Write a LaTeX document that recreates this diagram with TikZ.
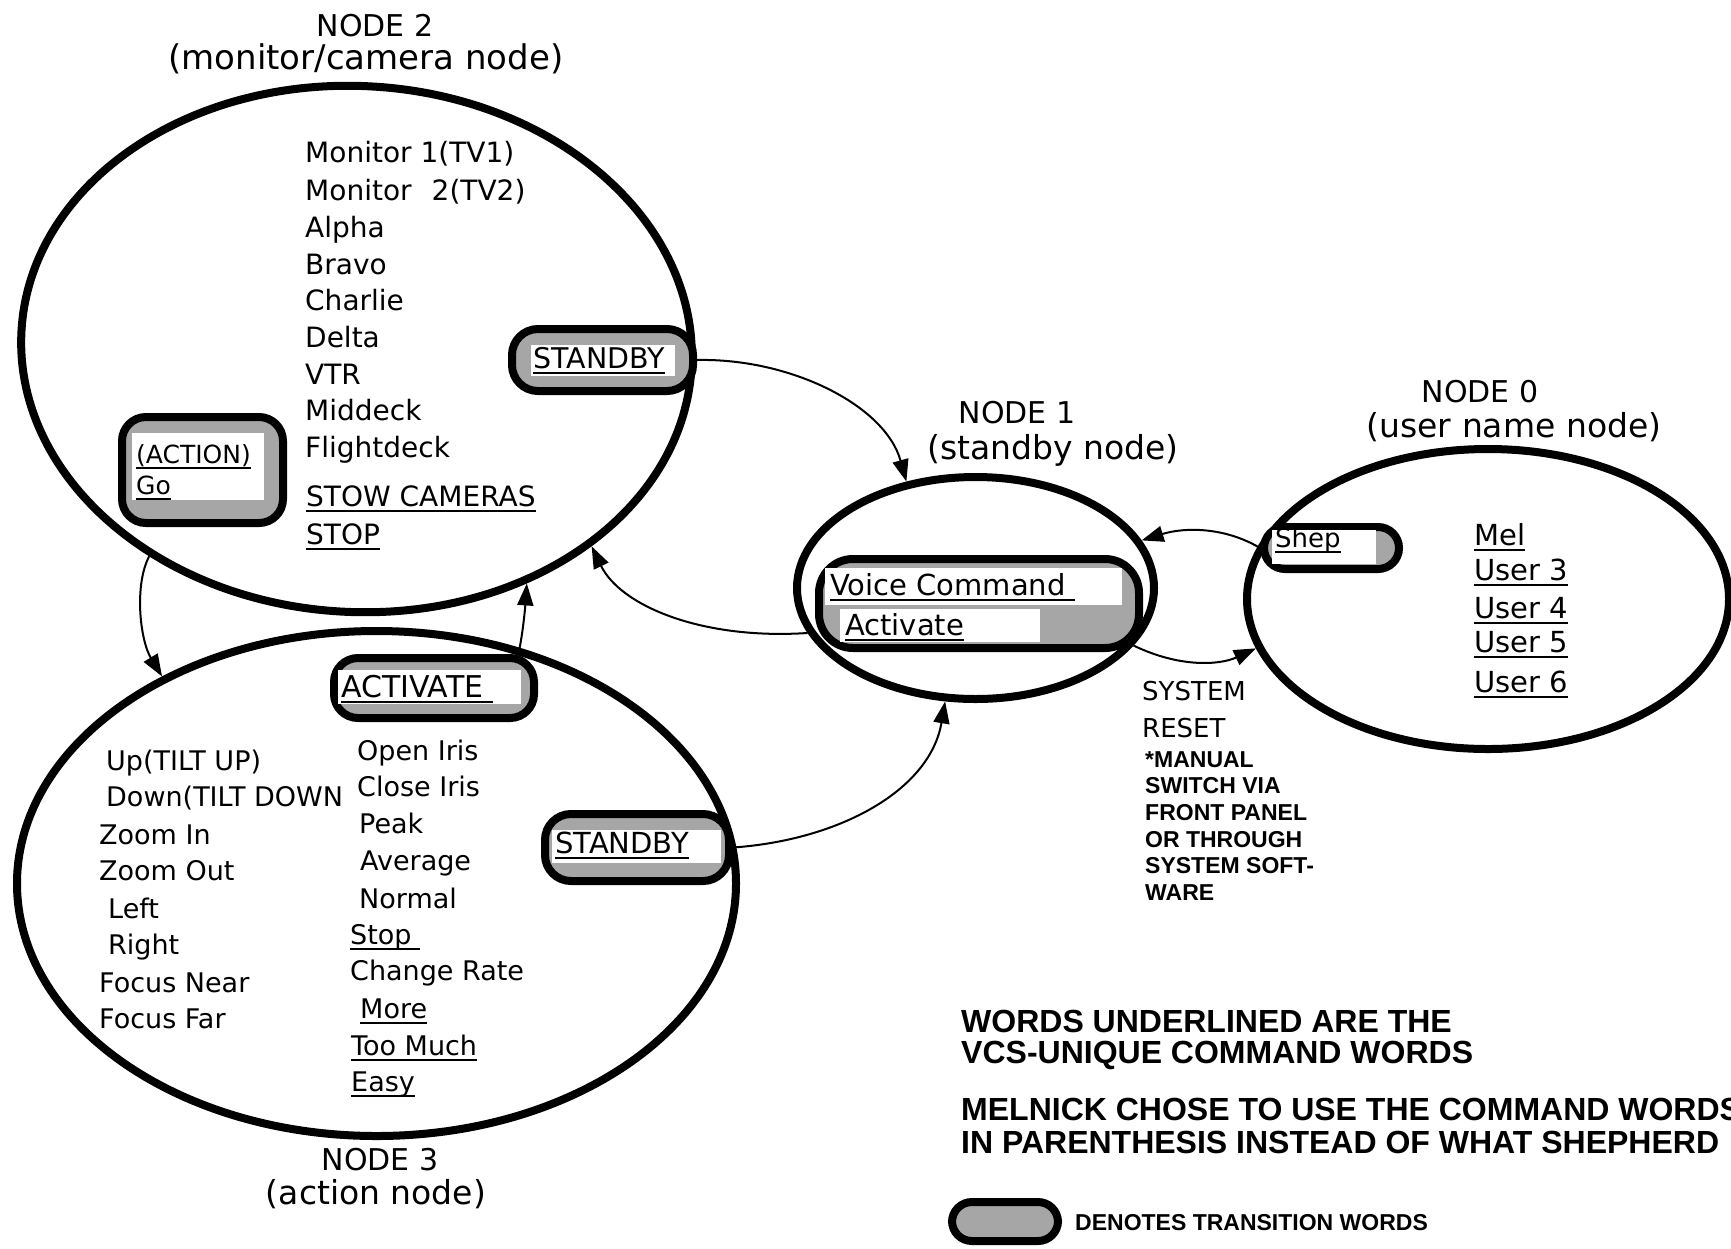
\documentclass[tikz,border=0pt]{standalone}
\usepackage{fontspec}
\setmainfont{DejaVu Sans}
\newfontfamily\notefont{Liberation Sans}
\usetikzlibrary{shapes.geometric,arrows.meta}
\newcommand\ul[1]{\begingroup\setbox0=\hbox{#1}\rlap{\rule[-6pt]{\wd0}{2pt}}\box0\endgroup}
\begin{document}
\begin{tikzpicture}[x=1pt,y=-1pt,
  ell/.style={ellipse, draw, line width=8pt, inner sep=0pt},
  tbox/.style={draw, line width=8pt, fill=black!35, inner sep=0pt},
  t2/.style={anchor=base west, inner sep=0pt, font=\fontsize{28}{34}\selectfont},
  t3/.style={anchor=base west, inner sep=0pt, font=\fontsize{27}{32}\selectfont},
  t1/.style={anchor=base west, inner sep=0pt, font=\fontsize{29}{34}\selectfont},
  tsm/.style={anchor=base west, inner sep=0pt, font=\fontsize{25}{30}\selectfont},
  tsys/.style={anchor=base west, inner sep=0pt, font=\fontsize{26}{30}\selectfont},
  ttl/.style={anchor=base, inner sep=0pt, font=\fontsize{33}{38}\selectfont},
  tnode/.style={anchor=base, inner sep=0pt, font=\fontsize{30}{36}\selectfont},
  nbig/.style={anchor=base west, inner sep=0pt, font=\notefont\bfseries\fontsize{32}{38}\selectfont},
  nsm/.style={anchor=base west, inner sep=0pt, font=\notefont\bfseries\fontsize{23}{27}\selectfont},
  arr/.style={-{Triangle[length=22pt,width=16pt]}, line width=2pt}
]
\useasboundingbox (0,0) rectangle (1731,1248);
\clip (0,0) rectangle (1731,1248);
\fill[white] (0,0) rectangle (1731,1248);

% ---------- ellipses ----------
\node[ell, rotate=-3, minimum width=671pt, minimum height=526pt] (n2) at (356.5,349) {};
\node[ell, minimum width=719pt, minimum height=505pt] (n3) at (376.5,883.5) {};
\node[ell, minimum width=357pt, minimum height=222pt] (n1) at (975.5,588) {};
\node[ell, minimum width=482pt, minimum height=300pt] (n0) at (1488,599) {};

% ---------- titles ----------
\node[tnode] (n2a) at (375,36) {NODE 2};
\node[ttl, font=\fontsize{34}{40}\selectfont] (n2b) at (366,69) {(monitor/camera node)};
\node[tnode] (n1a) at (1017,423) {NODE 1};
\node[ttl] (n1b) at (1053,459) {(standby node)};
\node[tnode] (n0a) at (1480,402) {NODE 0};
\node[ttl] (n0b) at (1514,437) {(user name node)};
\node[tnode] (n3a) at (380,1170) {NODE 3};
\node[ttl] (n3b) at (376,1204) {(action node)};

% ---------- node 2 words ----------
\foreach \t/\y [count=\i] in {Monitor 1(TV1)/162, Monitor\hspace{0.4em} 2(TV2)/200, Alpha/237, Bravo/274, Charlie/310, Delta/347, VTR/384, Middeck/420, Flightdeck/457}
  \node[t2] (w2\i) at (305,\y) {\t};
\node[t2] (stow) at (306,506) {\ul{STOW CAMERAS}};
\node[t2] (stop2) at (306,544) {\ul{STOP}};

% STANDBY box of node 2
\node[tbox, rounded corners=26pt, minimum width=181pt, minimum height=62pt] (s2) at (602.5,360) {};
\fill[white] (531,345) rectangle (675,376);
\node[t2, font=\fontsize{28.5}{34}\selectfont] (s2t) at (533,368) {\ul{STANDBY}};

% ACTION / Go box
\node[tbox, rounded corners=24pt, minimum width=161pt, minimum height=106pt] (ago) at (202.5,470) {};
\fill[white] (132,433) rectangle (264,500);
\node[tsm] (agoa) at (136,463) {\ul{(ACTION)}};
\node[tsm] (agob) at (136,494) {\ul{Go}};

% ---------- node 3 words ----------
\foreach \t/\x/\y [count=\i] in {Up(TILT UP)/106/770, Down(TILT DOWN/106/806, Zoom In/99/844, Zoom Out/99/880, Left/108/918, Right/108/954, Focus Near/99/992, Focus Far/99/1028}
  \node[t3] (l3\i) at (\x,\y) {\t};
\foreach \t/\x/\y [count=\i] in {Open Iris/357/760, Close Iris/357/796, Peak/359/833, Average/360/870, Normal/359/908, \ul{Stop\ }/350/944, Change Rate/350/980, \ul{More}/360/1018, \ul{Too Much}/351/1055, \ul{Easy}/351/1091}
  \node[t3] (r3\i) at (\x,\y) {\t};

% ACTIVATE box
\node[tbox, rounded corners=24pt, minimum width=200pt, minimum height=60pt] (act) at (434,688) {};
\fill[white] (338,670) rectangle (521,704);
\node[t3, font=\fontsize{30}{34}\selectfont] (actt) at (341,697) {\ul{ACTIVATE\ }};

% STANDBY box of node 3
\node[tbox, rounded corners=26pt, minimum width=184pt, minimum height=67pt] (s3) at (637,847.5) {};
\fill[white] (552,830) rectangle (721,863);
\node[t3, font=\fontsize{29}{34}\selectfont] (s3t) at (555,853) {\ul{STANDBY}};

% ---------- node 1 ----------
\node[tbox, rounded corners=34pt, minimum width=320pt, minimum height=89pt] (vc) at (979,603.5) {};
\fill[white] (825,568) rectangle (1122,605);
\fill[white] (840,609) rectangle (1040,642);
\node[t1] (vct) at (830,595) {\ul{Voice Command\ }};
\node[t1] (actv) at (845,635) {\ul{Activate}};

% ---------- node 0 ----------
\node[tbox, rounded corners=21pt, minimum width=135pt, minimum height=42pt] (shep) at (1331.5,548) {};
\fill[white] (1272,530) rectangle (1376,564);
\node[tsys] (shept) at (1275,547) {\ul{Shep}};
\foreach \t/\y [count=\i] in {Mel/545, User 3/580, User 4/618, User 5/652, User 6/692}
  \node[t1] (u\i) at (1474,\y) {\ul{\t}};

% ---------- system reset ----------
\node[tsys] (sys1) at (1142,700) {SYSTEM};
\node[tsys] (sys2) at (1142,737) {RESET};
\foreach \t/\y [count=\i] in {*MANUAL/767, SWITCH VIA/793, FRONT PANEL/820, OR THROUGH/847, SYSTEM SOFT-/873, WARE/900}
  \node[nsm] (m\i) at (1145,\y) {\t};

% ---------- notes ----------
\node[nbig] (nt1) at (961,1032) {WORDS UNDERLINED ARE THE};
\node[nbig] (nt2) at (961,1063) {VCS-UNIQUE COMMAND WORDS};
\node[nbig] (nt3) at (961,1120) {MELNICK CHOSE TO USE THE COMMAND WORDS};
\node[nbig] (nt4) at (961,1153) {IN PARENTHESIS INSTEAD OF WHAT SHEPHERD};
\node[tbox, rounded corners=20pt, minimum width=106pt, minimum height=39pt] (leg) at (1005,1221.5) {};
\node[nsm] (legt) at (1075,1230) {DENOTES TRANSITION WORDS};

% ---------- connectors ----------
\draw[arr] (s2.east) .. controls (790,358) and (885,405) .. (n1.123);
\draw[arr] (n1.195) .. controls (700,640) and (620,605) .. (n2.323);
\draw[arr] (shep.west) .. controls (1225,527) and (1185,527) .. (n1.16);
\draw[arr] (n1.-20) .. controls (1180,668) and (1220,665) .. (n0.192);
\draw[arr] (s3.east) .. controls (840,840) and (930,790) .. (n1.255);
\draw[arr] (n2.228) .. controls (134,585) and (140,640) .. (n3.136);
\draw[arr] (act.22) .. controls (522,640) and (525,610) .. (n2.309);
\end{tikzpicture}
\end{document}
